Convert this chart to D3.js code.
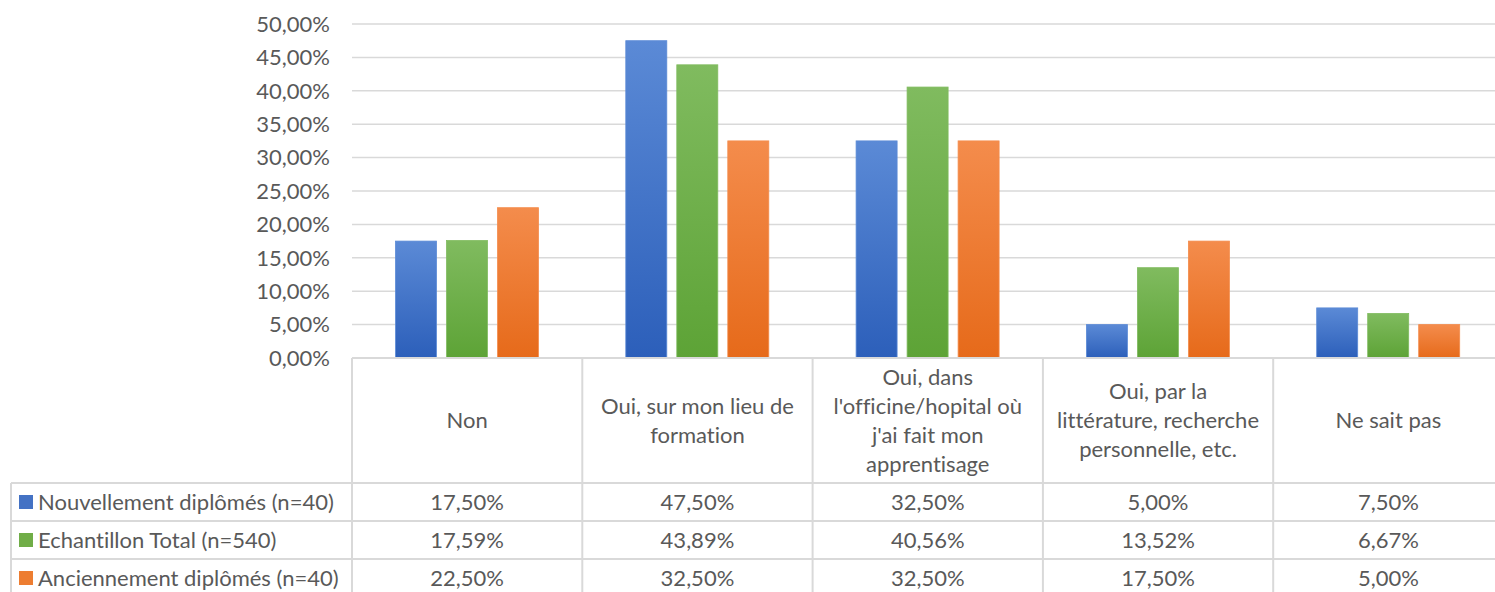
<!DOCTYPE html>
<html>
<head>
<meta charset="utf-8">
<script src="https://cdn.jsdelivr.net/npm/d3@7"></script>
<style>
  body { margin: 0; background: #fff; }
  svg text { font-family: "Lato", "Open Sans", sans-serif; fill: #595959; font-variant-ligatures: none; }
</style>
</head>
<body>
<svg id="chart" width="1495" height="592"></svg>
<script>
var categories = [
  ["Non"],
  ["Oui, sur mon lieu de", "formation"],
  ["Oui, dans", "l'officine/hopital où", "j'ai fait mon", "apprentisage"],
  ["Oui, par la", "littérature, recherche", "personnelle, etc."],
  ["Ne sait pas"]
];
var seriesNames = ["Nouvellement diplômés (n=40)", "Echantillon Total (n=540)", "Anciennement diplômés (n=40)"];
var nouveaux = [17.50, 47.50, 32.50, 5.00, 7.50];
var total = [17.59, 43.89, 40.56, 13.52, 6.67];
var anciens = [22.50, 32.50, 32.50, 17.50, 5.00];
var yTicks = [0, 5, 10, 15, 20, 25, 30, 35, 40, 45, 50];

var seriesValues = [nouveaux, total, anciens];
var baseColors = ["#4472c4", "#70ad47", "#ed7d31"];
var topColors = ["#5b8ad6", "#80bb5f", "#f48c4c"];
var bottomColors = ["#2c5fba", "#5da336", "#e66a1a"];

var svg = d3.select("#chart");
var fmt = function (v) { return v.toFixed(2).replace(".", ",") + "%"; };
var fontSize = "22px";

var plotLeft = 352, plotRight = 1503.5, plotTop = 24, base = 358;
var tableLeft = 11;
var headerBottom = 483, rowH = 38;

var x0 = d3.scaleBand().domain(d3.range(categories.length)).range([plotLeft, plotRight]);
var x1 = d3.scaleBand().domain(d3.range(3)).range([43.5, 186.5]).paddingInner(0.196);
var y = d3.scaleLinear().domain([0, 50]).range([base, plotTop]);

// gradients
var defs = svg.append("defs");
seriesNames.forEach(function (s, i) {
  var g = defs.append("linearGradient").attr("id", "grad" + i)
    .attr("x1", 0).attr("y1", 0).attr("x2", 0).attr("y2", 1);
  g.append("stop").attr("offset", "0%").attr("stop-color", topColors[i]);
  g.append("stop").attr("offset", "100%").attr("stop-color", bottomColors[i]);
});

// gridlines
svg.append("g").selectAll("line").data(yTicks.slice(1)).enter().append("line")
  .attr("x1", plotLeft).attr("x2", plotRight)
  .attr("y1", function (d) { return y(d); }).attr("y2", function (d) { return y(d); })
  .attr("stroke", "#d9d9d9").attr("stroke-width", 1.5);

// y axis labels
svg.append("g").selectAll("text").data(yTicks).enter().append("text")
  .attr("x", 330).attr("y", function (d) { return y(d); })
  .attr("dy", "0.35em").attr("text-anchor", "end")
  .style("font-size", fontSize)
  .text(fmt);

// bars
seriesValues.forEach(function (vals, si) {
  svg.append("g").selectAll("rect").data(vals).enter().append("rect")
    .attr("x", function (d, i) { return x0(i) + x1(si); })
    .attr("y", function (d) { return y(d); })
    .attr("width", x1.bandwidth())
    .attr("height", function (d) { return base - y(d); })
    .attr("fill", "url(#grad" + si + ")")
    .attr("stroke", topColors[si]).attr("stroke-width", 0.8);
});

// table lines
var tl = svg.append("g").attr("stroke", "#d9d9d9").attr("stroke-width", 2);
tl.append("line").attr("x1", plotLeft).attr("x2", plotRight).attr("y1", base).attr("y2", base);
d3.range(categories.length + 1).forEach(function (i) {
  var xx = i < categories.length ? x0(i) : plotRight;
  tl.append("line").attr("x1", xx).attr("x2", xx).attr("y1", base).attr("y2", 600);
});
tl.append("line").attr("x1", tableLeft).attr("x2", tableLeft).attr("y1", headerBottom).attr("y2", 600);
d3.range(3).forEach(function (r) {
  var yy = headerBottom + r * rowH;
  tl.append("line").attr("x1", tableLeft).attr("x2", plotRight).attr("y1", yy).attr("y2", yy);
});

// category headers
var lineH = 29;
categories.forEach(function (lines, i) {
  var cx = x0(i) + x0.bandwidth() / 2;
  var cy = (base + headerBottom) / 2;
  var startY = cy - (lines.length - 1) * lineH / 2;
  var t = svg.append("text").attr("text-anchor", "middle").style("font-size", fontSize);
  lines.forEach(function (l, k) {
    t.append("tspan").attr("x", cx).attr("y", startY + k * lineH).attr("dy", "0.35em").text(l);
  });
});

// data rows
seriesNames.forEach(function (name, si) {
  var cy = headerBottom + si * rowH + rowH / 2;
  svg.append("rect").attr("x", 19).attr("y", cy - 7).attr("width", 14).attr("height", 14)
    .attr("fill", baseColors[si]);
  svg.append("text").attr("x", 38).attr("y", cy).attr("dy", "0.35em")
    .style("font-size", fontSize).text(name);
  svg.append("g").selectAll("text").data(seriesValues[si]).enter().append("text")
    .attr("x", function (d, i) { return x0(i) + x0.bandwidth() / 2; })
    .attr("y", cy).attr("dy", "0.35em").attr("text-anchor", "middle")
    .style("font-size", fontSize)
    .text(fmt);
});
</script>
</body>
</html>
